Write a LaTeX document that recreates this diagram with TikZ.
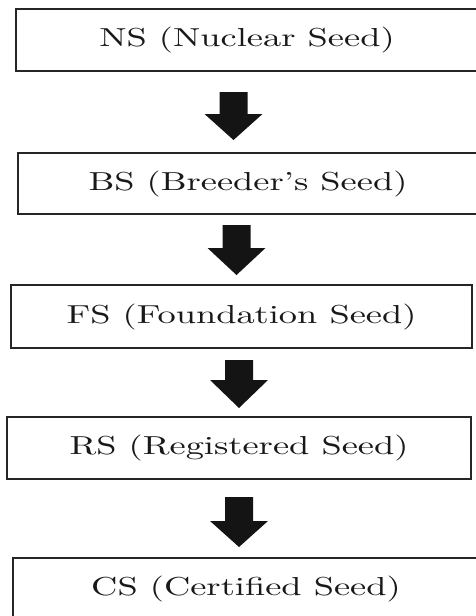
\documentclass[tikz,border=0pt]{standalone}
\usepackage{fontspec}
\setmainfont{lmroman10-regular}[Extension=.otf]
\newcommand\boxfont{\fontsize{26}{30}\selectfont}
\newcommand\wide[1]{\scalebox{1.4}[1]{#1}}
\begin{document}
\begin{tikzpicture}[x=1pt,y=-1pt,
  seedbox/.style={draw=black!85, line width=1.5pt, fill=white, rectangle, inner sep=0pt,
    font=\boxfont, text=black!90},
  blockarrow/.style={fill=black!92, draw=none}]
\useasboundingbox (0,0) rectangle (476,616);
\clip (0,0) rectangle (476,616);
% boxes (centre, size in px)
\node[seedbox, minimum width=462pt, minimum height=62pt] (ns) at (247,40) {\wide{NS (Nuclear Seed)}};
\node[seedbox, minimum width=460pt, minimum height=61pt] (bs) at (248,183.5) {\wide{BS (Breeder's Seed)}};
\node[seedbox, minimum width=461pt, minimum height=63pt] (fs) at (241.5,316.5) {\wide{FS (Foundation Seed)}};
\node[seedbox, minimum width=464pt, minimum height=62pt] (rs) at (239,448) {\wide{RS (Registered Seed)}};
\node[seedbox, minimum width=466pt, minimum height=62pt] (cs) at (246,589) {\wide{CS (Certified Seed)}};
% arrow anchor coordinates (top centre of shaft)
\coordinate (a1) at (233.5,92);
\coordinate (a2) at (236.5,225);
\coordinate (a3) at (239,360);
\coordinate (a4) at (239,497);
\foreach \c/\s/\h in {a1/22/26, a2/23/27, a3/20/28, a4/24/26}{
  \fill[blockarrow] (\c) ++(-14,0) -- ++(28,0) -- ++(0,\s) -- ++(15,0) -- ++(-29,\h) -- ++(-29,-\h) -- ++(15,0) -- cycle;
}
\end{tikzpicture}
\end{document}
